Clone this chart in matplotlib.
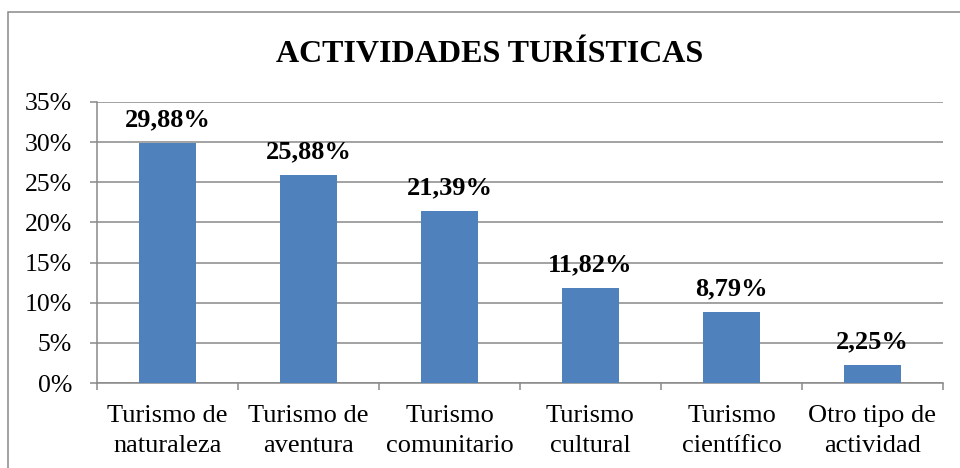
import matplotlib
matplotlib.use("Agg")
import matplotlib.pyplot as plt
from matplotlib.patches import Rectangle
from matplotlib.ticker import FuncFormatter, MultipleLocator

categories = ["Turismo de\nnaturaleza", "Turismo de\naventura", "Turismo\ncomunitario",
              "Turismo\ncultural", "Turismo\ncientífico", "Otro tipo de\nactividad"]
values = [29.88, 25.88, 21.39, 11.82, 8.79, 2.25]
value_labels = ["29,88%", "25,88%", "21,39%", "11,82%", "8,79%", "2,25%"]
title = "ACTIVIDADES TURÍSTICAS"

BAR = "#4F81BD"
GRID = "#898989"
SERIF = ["Liberation Serif", "DejaVu Serif"]

plt.rcParams["font.family"] = SERIF

W, H = 960, 468
fig = plt.figure(figsize=(W / 100, H / 100), dpi=100)

# outer chart frame
fig.patches.append(Rectangle((8 / W, -0.1), 1.2, 1.1 - 12 / H, transform=fig.transFigure,
                             fill=False, edgecolor=GRID, linewidth=1.1, zorder=0))

ax = fig.add_axes([97 / W, 1 - 383 / H, (943 - 97) / W, (383 - 102) / H])

x = list(range(len(categories)))
ax.bar(x, values, width=0.4, color=BAR, zorder=3)

ax.set_xlim(-0.5, len(categories) - 0.5)
ax.set_ylim(0, 35)
ax.yaxis.set_major_locator(MultipleLocator(5))
ax.yaxis.set_major_formatter(FuncFormatter(lambda v, _: f"{v:.0f}%"))
ax.yaxis.grid(True, color=GRID, linewidth=1.1, zorder=0)
ax.set_axisbelow(True)

ax.set_xticks(x)
ax.set_xticklabels(categories, fontsize=19, linespacing=1.45)
ax.set_xticks([i - 0.5 for i in range(len(categories) + 1)], minor=True)
ax.tick_params(axis="x", which="major", length=0, pad=16)
ax.tick_params(axis="x", which="minor", length=5, width=1.1, color=GRID, direction="out")
ax.tick_params(axis="y", length=5, width=1.1, color=GRID, labelsize=18.5, pad=13)

for s in ["top", "right"]:
    ax.spines[s].set_visible(False)
for s in ["left", "bottom"]:
    ax.spines[s].set_color(GRID)
    ax.spines[s].set_linewidth(1.1)

for xi, v, lab in zip(x, values, value_labels):
    ax.annotate(lab, (xi, v), xytext=(0, 12), textcoords="offset points",
                ha="center", va="baseline", fontsize=19, fontweight="bold", zorder=5)

fig.text(490 / W, 1 - 62 / H, title, ha="center", va="baseline",
         fontsize=23, fontweight="bold")

fig.savefig("out.png", dpi=100, facecolor="white")
